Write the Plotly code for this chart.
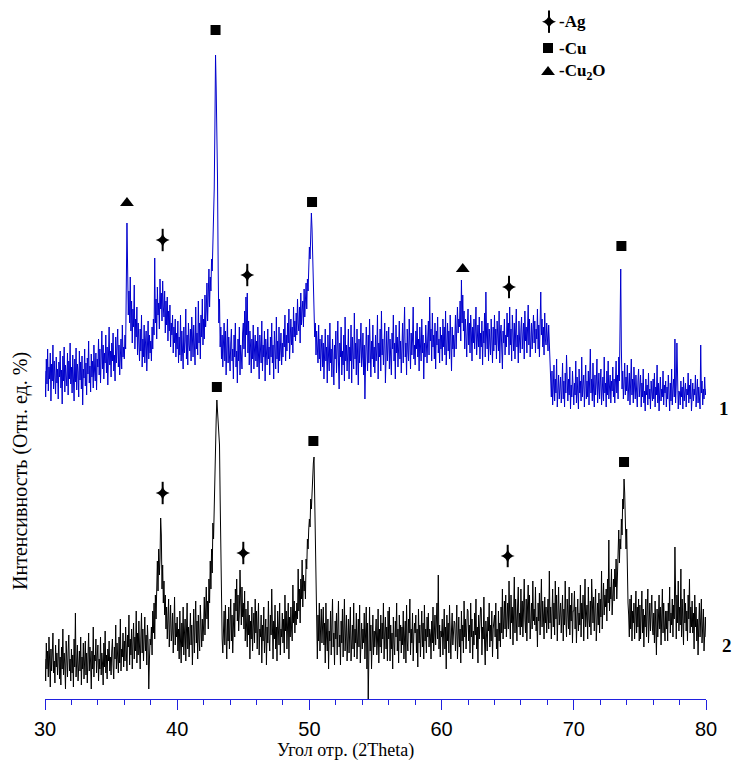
import plotly.graph_objects as go

# 2Theta grid (degrees): 0.05 step from 30 to 80
x_start, x_step, n_pts = 30.0, 0.05, 1001
two_theta = [round(x_start + x_step * i, 2) for i in range(n_pts)]

# Pattern 1 (blue), relative intensity, one row per degree
pattern1 = [
    48, 22, 60, 35, 70, 28, 52, 40, 66, 18, 55, 38, 74, 30, 58, 44, 25, 62, 36, 50,   # 30
    20, 57, 42, 68, 31, 49, 15, 63, 38, 72, 27, 54, 45, 33, 66, 24, 58, 40, 76, 35,   # 31
    52, 26, 64, 44, 18, 60, 37, 71, 29, 55, 47, 22, 68, 39, 57, 30, 63, 14, 50, 41,   # 32
    70, 33, 56, 24, 61, 45, 78, 36, 53, 27, 65, 42, 58, 31, 74, 48, 38, 66, 29, 60,   # 33
    52, 80, 44, 70, 36, 62, 88, 50, 74, 40, 66, 56, 84, 46, 72, 34, 60, 92, 54, 68,   # 34
    42, 76, 58, 86, 48, 64, 38, 82, 56, 70, 90, 52, 74, 44, 66, 80, 50, 94, 62, 72,   # 35
    60, 84, 70, 120, 196, 150, 104, 128, 96, 142, 88, 118, 76, 110, 92, 134, 70, 100, 82, 112,  # 36
    64, 96, 74, 58, 90, 68, 104, 52, 80, 62, 94, 56, 76, 88, 48, 72, 98, 60, 84, 66,  # 37
    78, 58, 92, 70, 100, 84, 161, 96, 120, 80, 132, 104, 116, 90, 140, 110, 126, 98, 138, 112,  # 38
    102, 128, 86, 118, 94, 122, 78, 108, 88, 114, 72, 96, 84, 104, 66, 92, 76, 100, 62, 86,  # 39
    70, 98, 56, 82, 64, 104, 58, 88, 72, 50, 92, 66, 78, 110, 60, 84, 54, 96, 74, 68,  # 40
    90, 58, 102, 72, 62, 94, 80, 54, 112, 70, 86, 64, 118, 76, 96, 60, 104, 82, 120, 74,  # 41
    100, 80, 124, 92, 108, 136, 98, 118, 150, 112, 142, 128, 160, 148, 172, 180, 230, 290, 364, 330,  # 42
    300, 240, 150, 96, 120, 72, 92, 60, 84, 52, 76, 96, 58, 88, 44, 70, 100, 56, 82, 64,  # 43
    48, 76, 90, 58, 70, 40, 84, 62, 96, 52, 68, 36, 80, 58, 92, 44, 74, 64, 50, 86,   # 44
    96, 70, 108, 62, 122, 84, 126, 66, 98, 54, 88, 72, 46, 80, 60, 94, 50, 70, 84, 58,  # 45
    78, 52, 92, 64, 40, 84, 70, 56, 98, 48, 74, 62, 88, 38, 80, 66, 54, 90, 60, 72,   # 46
    44, 82, 62, 96, 56, 74, 40, 88, 66, 50, 102, 60, 78, 46, 92, 58, 70, 86, 54, 76,  # 47
    62, 90, 72, 104, 58, 84, 68, 96, 76, 110, 60, 88, 100, 74, 92, 66, 112, 82, 98, 78,  # 48
    106, 84, 120, 96, 88, 112, 76, 126, 94, 108, 118, 92, 130, 102, 122, 136, 110, 140, 128, 150,  # 49
    172, 160, 186, 206, 190, 168, 140, 110, 82, 96, 64, 88, 72, 56, 94, 60, 80, 48, 70, 84,  # 50
    52, 76, 40, 68, 90, 58, 72, 36, 84, 62, 48, 96, 56, 70, 42, 80, 64, 34, 74, 60,   # 51
    88, 46, 70, 98, 56, 30, 76, 62, 92, 44, 68, 54, 84, 38, 102, 58, 74, 48, 66, 90,  # 52
    40, 72, 58, 94, 36, 82, 64, 50, 106, 60, 76, 44, 90, 68, 34, 80, 56, 72, 96, 52,  # 53
    62, 86, 44, 74, 20, 58, 92, 70, 48, 84, 56, 100, 66, 42, 78, 60, 94, 52, 72, 46,  # 54
    84, 58, 70, 104, 40, 76, 62, 90, 48, 108, 64, 80, 54, 72, 96, 36, 68, 88, 58, 74,  # 55
    92, 50, 80, 62, 44, 86, 70, 104, 58, 76, 40, 94, 66, 82, 52, 72, 98, 60, 78, 46,  # 56
    70, 96, 56, 84, 112, 62, 76, 44, 90, 68, 58, 100, 72, 50, 86, 64, 80, 112, 60, 74,  # 57
    54, 88, 70, 96, 62, 80, 48, 92, 74, 58, 100, 66, 84, 40, 76, 62, 94, 70, 56, 82,  # 58
    98, 64, 122, 78, 90, 58, 106, 72, 84, 60, 96, 50, 88, 74, 102, 66, 80, 56, 92, 70,  # 59
    84, 58, 100, 72, 92, 64, 108, 54, 80, 96, 68, 88, 60, 104, 76, 48, 92, 70, 84, 62,  # 60
    80, 104, 70, 96, 112, 86, 100, 92, 118, 78, 139, 96, 124, 88, 108, 70, 100, 84, 62, 92,  # 61
    110, 74, 96, 66, 104, 86, 58, 92, 76, 100, 70, 88, 112, 64, 80, 94, 72, 102, 60, 86,  # 62
    72, 98, 54, 88, 76, 106, 62, 127, 84, 70, 96, 58, 90, 76, 64, 100, 80, 56, 92, 68,  # 63
    104, 74, 90, 60, 98, 80, 68, 108, 56, 86, 94, 70, 50, 88, 76, 100, 64, 84, 72, 106,  # 64
    82, 96, 64, 112, 74, 90, 58, 104, 80, 68, 96, 60, 88, 110, 72, 84, 56, 98, 78, 66,  # 65
    90, 102, 70, 84, 96, 60, 108, 78, 92, 66, 86, 114, 74, 100, 62, 88, 96, 70, 82, 104,  # 66
    76, 98, 66, 90, 80, 110, 70, 94, 62, 86, 127, 84, 100, 72, 92, 64, 106, 80, 74, 96,  # 67
    84, 68, 94, 72, 60, 36, 22, 48, 14, 32, 54, 18, 40, 26, 60, 12, 34, 44, 20, 30,  # 68
    42, 16, 28, 56, 20, 38, 12, 46, 26, 64, 30, 18, 40, 24, 52, 10, 34, 22, 48, 28,  # 69
    14, 36, 24, 58, 16, 42, 30, 10, 50, 26, 38, 18, 62, 22, 34, 44, 12, 30, 54, 20,  # 70
    38, 22, 48, 14, 32, 70, 26, 40, 18, 56, 28, 12, 44, 24, 36, 60, 16, 30, 46, 20,  # 71
    34, 50, 14, 28, 42, 18, 62, 26, 36, 12, 48, 24, 58, 20, 32, 44, 16, 38, 28, 52,  # 72
    22, 40, 16, 34, 58, 26, 44, 20, 62, 38, 86, 150, 70, 30, 48, 20, 36, 56, 24, 42,  # 73
    28, 54, 18, 36, 46, 14, 30, 60, 24, 40, 16, 52, 32, 20, 44, 26, 12, 38, 50, 22,  # 74
    30, 44, 12, 36, 22, 50, 16, 28, 8, 40, 24, 34, 14, 46, 20, 30, 10, 38, 26, 18,   # 75
    40, 20, 46, 12, 32, 24, 54, 16, 36, 8, 28, 42, 18, 30, 22, 48, 14, 34, 26, 38,   # 76
    12, 32, 20, 44, 26, 8, 36, 18, 50, 14, 30, 40, 22, 80, 16, 34, 76, 24, 10, 28,   # 77
    26, 14, 38, 22, 32, 10, 42, 18, 28, 36, 12, 30, 24, 46, 16, 34, 20, 40, 8, 28,   # 78
    36, 18, 30, 24, 44, 12, 28, 40, 16, 32, 22, 10, 74, 26, 38, 14, 30, 20, 42, 24,  # 79
    30,                                                                               # 80
]

# Pattern 2 (black), relative intensity, one row per degree
pattern2 = [
    40, 18, 56, 30, 48, 22, 62, 34, 12, 50, 28, 44, 66, 26, 38, 16, 54, 32, 46, 24,   # 30
    36, 60, 20, 42, 14, 52, 30, 70, 24, 46, 34, 10, 58, 38, 22, 48, 64, 28, 40, 18,   # 31
    50, 26, 44, 12, 60, 32, 86, 22, 40, 54, 18, 36, 48, 28, 62, 14, 42, 30, 56, 20,   # 32
    34, 58, 24, 46, 16, 40, 66, 28, 52, 36, 10, 48, 30, 72, 22, 44, 38, 60, 26, 42,   # 33
    54, 18, 40, 30, 62, 24, 46, 36, 14, 56, 32, 68, 26, 44, 20, 50, 38, 58, 28, 42,   # 34
    24, 48, 60, 34, 20, 52, 40, 74, 30, 56, 44, 26, 62, 36, 80, 28, 50, 42, 66, 32,   # 35
    58, 38, 72, 46, 28, 64, 52, 84, 34, 60, 44, 70, 30, 56, 76, 40, 62, 48, 88, 36,   # 36
    66, 44, 78, 52, 30, 62, 86, 46, 70, 38, 58, 82, 48, 64, 34, 74, 56, 10, 40, 60,   # 37
    54, 72, 44, 88, 66, 96, 60, 104, 80, 120, 138, 108, 150, 124, 140, 181, 164, 110, 134, 96,  # 38
    118, 84, 104, 70, 92, 60, 80, 100, 52, 74, 94, 58, 66, 86, 46, 70, 102, 54, 76, 62,  # 39
    82, 48, 70, 40, 88, 58, 36, 76, 52, 92, 44, 66, 80, 38, 60, 96, 50, 72, 42, 64,   # 40
    86, 54, 74, 34, 62, 90, 46, 68, 98, 56, 78, 40, 84, 60, 48, 94, 66, 52, 80, 58,   # 41
    74, 102, 64, 88, 112, 80, 98, 70, 120, 96, 138, 110, 150, 126, 176, 160, 200, 232, 254, 280,  # 42
    299, 285, 268, 258, 254, 200, 140, 90, 60, 46, 72, 88, 54, 94, 62, 40, 80, 58, 92, 50,  # 43
    76, 100, 58, 84, 46, 70, 96, 62, 110, 88, 120, 78, 104, 68, 86, 129, 100, 74, 112, 82,  # 44
    96, 70, 108, 58, 90, 74, 52, 98, 64, 84, 40, 78, 60, 92, 48, 72, 86, 56, 100, 66,  # 45
    88, 50, 76, 96, 44, 70, 62, 84, 36, 74, 58, 92, 46, 66, 80, 34, 72, 56, 98, 60,   # 46
    48, 84, 64, 110, 56, 40, 78, 60, 94, 50, 72, 38, 88, 66, 54, 96, 44, 70, 62, 86,  # 47
    56, 80, 46, 104, 68, 88, 50, 74, 96, 40, 82, 62, 92, 70, 58, 114, 76, 98, 66, 88,  # 48
    74, 96, 80, 130, 88, 110, 76, 120, 100, 139, 92, 124, 108, 118, 100, 140, 130, 160, 150, 170,  # 49
    180, 172, 200, 190, 214, 226, 236, 242, 200, 150, 96, 64, 40, 84, 58, 96, 48, 72, 90, 56,  # 50
    70, 92, 54, 76, 36, 96, 62, 48, 80, 30, 68, 58, 88, 44, 74, 100, 52, 66, 34, 78,  # 51
    60, 86, 44, 70, 98, 52, 64, 34, 78, 56, 90, 42, 72, 100, 48, 66, 84, 38, 60, 80,  # 52
    46, 68, 92, 38, 58, 74, 50, 96, 42, 70, 56, 86, 40, 64, 80, 52, 94, 36, 62, 76,   # 53
    50, 70, 56, 86, 40, 64, 92, 30, 76, -2, 62, 92, 48, 74, 30, 58, 84, 44, 68, 52,   # 54
    64, 80, 44, 58, 90, 36, 70, 52, 84, 46, 76, 60, 96, 40, 66, 82, 50, 72, 38, 88,   # 55
    60, 92, 38, 74, 50, 66, 30, 82, 56, 44, 78, 62, 96, 48, 70, 36, 84, 58, 74, 46,   # 56
    72, 54, 88, 40, 62, 78, 36, 94, 58, 48, 80, 66, 100, 44, 70, 56, 86, 38, 64, 76,  # 57
    66, 84, 46, 70, 32, 90, 56, 74, 42, 60, 88, 52, 76, 40, 94, 58, 70, 46, 82, 62,   # 58
    86, 52, 70, 64, 40, 78, 56, 92, 48, 66, 84, 54, 72, 96, 60, 124, 50, 74, 42, 68,  # 59
    62, 80, 44, 68, 90, 50, 72, 30, 84, 58, 76, 46, 94, 64, 40, 70, 86, 54, 66, 78,   # 60
    76, 48, 66, 94, 40, 60, 82, 52, 70, 36, 88, 58, 74, 46, 98, 62, 80, 50, 70, 90,   # 61
    88, 58, 74, 46, 96, 62, 80, 40, 68, 54, 86, 64, 100, 50, 72, 36, 84, 60, 76, 92,  # 62
    90, 44, 72, 60, 102, 56, 34, 78, 64, 48, 82, 68, 96, 52, 74, 58, 88, 42, 70, 84,  # 63
    84, 62, 96, 50, 70, 40, 88, 58, 76, 52, 92, 66, 110, 60, 80, 98, 70, 104, 62, 88,  # 64
    96, 70, 118, 84, 60, 104, 76, 92, 54, 88, 122, 66, 100, 80, 58, 94, 112, 72, 86, 64,  # 65
    110, 72, 98, 62, 86, 120, 80, 66, 100, 58, 92, 114, 76, 104, 60, 84, 96, 70, 118, 78,  # 66
    90, 74, 112, 68, 82, 52, 96, 78, 106, 64, 88, 120, 72, 98, 84, 60, 102, 76, 92, 66,  # 67
    84, 100, 70, 128, 76, 92, 60, 88, 110, 72, 96, 64, 118, 80, 104, 58, 90, 112, 74, 86,  # 68
    96, 66, 84, 104, 58, 90, 74, 118, 80, 62, 100, 86, 70, 112, 64, 94, 78, 106, 56, 88,  # 69
    88, 108, 70, 92, 56, 82, 100, 68, 86, 74, 114, 62, 96, 80, 104, 58, 90, 120, 72, 84,  # 70
    94, 60, 112, 80, 72, 98, 64, 120, 86, 76, 102, 68, 90, 110, 58, 84, 96, 74, 106, 66,  # 71
    100, 82, 128, 70, 96, 116, 84, 104, 92, 110, 78, 120, 96, 159, 88, 112, 100, 130, 84, 118,  # 72
    120, 98, 130, 112, 140, 100, 124, 150, 169, 136, 160, 150, 180, 164, 200, 190, 220, 206, 179, 150,  # 73
    170, 120, 96, 84, 62, 100, 70, 104, 58, 88, 76, 96, 60, 84, 108, 66, 92, 72, 100, 58,  # 74
    94, 60, 80, 108, 66, 90, 52, 84, 72, 100, 62, 88, 110, 56, 78, 96, 68, 86, 104, 70,  # 75
    64, 86, 56, 98, 74, 44, 90, 62, 80, 104, 70, 92, 54, 84, 110, 66, 96, 72, 58, 88,  # 76
    70, 88, 58, 96, 78, 112, 66, 86, 74, 100, 62, 94, 80, 152, 90, 60, 104, 76, 118, 68,  # 77
    92, 74, 130, 62, 100, 84, 54, 110, 76, 96, 68, 88, 58, 104, 80, 120, 66, 92, 72, 98,  # 78
    66, 86, 50, 104, 72, 92, 58, 80, 44, 74, 96, 62, 84, 100, 56, 78, 90, 48, 70, 82,  # 79
    62,                                                                                 # 80
]

# Phase markers: (2Theta, relative intensity) for each pattern
ag_1_x = [38.9, 45.3, 65.1]
ag_1_y = [179, 144, 132]
cu_1_x = [42.9, 50.2, 73.6]
cu_1_y = [389, 217, 173]
cu2o_1_x = [36.2, 61.6]
cu2o_1_y = [216, 150]
ag_2_x = [38.9, 45.0, 65.0]
ag_2_y = [206, 146, 143]
cu_2_x = [43.0, 50.3, 73.8]
cu_2_y = [312, 258, 237]

pattern_labels = ["1", "2"]
legend_names = ["-Ag", "-Cu", "-Cu<sub>2</sub>O"]
x_ticks = [30, 40, 50, 60, 70, 80]

offset1 = 280   # vertical stacking offset of pattern 1
offset2 = 0

AXIS_BLUE = "#2020E0"
SERIF = "Liberation Serif"

ag_x = ag_1_x + ag_2_x
ag_y = [v + offset1 for v in ag_1_y] + [v + offset2 for v in ag_2_y]
cu_x = cu_1_x + cu_2_x
cu_y = [v + offset1 for v in cu_1_y] + [v + offset2 for v in cu_2_y]
cu2o_y = [v + offset1 for v in cu2o_1_y]

# marker styles (Ag = elongated four-point star built from two marker layers)
STAR = dict(symbol="star-diamond", size=10, color="black")
STAR_ARM = dict(symbol="line-ns", size=16, line=dict(width=2, color="black"))
SQUARE = dict(symbol="square", size=10, color="black")
TRIANGLE = dict(symbol="triangle-up", size=12, color="black")

fig = go.Figure()
fig.add_trace(go.Scatter(x=two_theta, y=[v + offset1 for v in pattern1], mode="lines",
                         line=dict(color="#0000CD", width=1), showlegend=False, hoverinfo="skip"))
fig.add_trace(go.Scatter(x=two_theta, y=[v + offset2 for v in pattern2], mode="lines",
                         line=dict(color="#000000", width=1), showlegend=False, hoverinfo="skip"))

fig.add_trace(go.Scatter(x=ag_x, y=ag_y, mode="markers", showlegend=False, marker=STAR_ARM))
fig.add_trace(go.Scatter(x=ag_x, y=ag_y, mode="markers", showlegend=False, marker=STAR))
fig.add_trace(go.Scatter(x=cu_x, y=cu_y, mode="markers", showlegend=False, marker=SQUARE))
fig.add_trace(go.Scatter(x=cu2o_1_x, y=cu2o_y, mode="markers", showlegend=False, marker=TRIANGLE))

# legend key symbols, drawn on an overlay axis spanning the plot area (0..1)
leg_sym_x = [0.7625, 0.761, 0.761]
leg_y = [0.969, 0.9313, 0.897]
fig.add_trace(go.Scatter(x=leg_sym_x[:1], y=leg_y[:1], xaxis="x2", yaxis="y2", mode="markers",
                         showlegend=False, hoverinfo="skip", marker=STAR_ARM))
fig.add_trace(go.Scatter(x=leg_sym_x[:1], y=leg_y[:1], xaxis="x2", yaxis="y2", mode="markers",
                         showlegend=False, hoverinfo="skip", marker=STAR))
fig.add_trace(go.Scatter(x=leg_sym_x[1:2], y=leg_y[1:2], xaxis="x2", yaxis="y2", mode="markers",
                         showlegend=False, hoverinfo="skip", marker=SQUARE))
fig.add_trace(go.Scatter(x=leg_sym_x[2:], y=leg_y[2:], xaxis="x2", yaxis="y2", mode="markers",
                         showlegend=False, hoverinfo="skip", marker=TRIANGLE))
for name, ly in zip(legend_names, leg_y):
    fig.add_annotation(x=0.7746, y=ly, xref="paper", yref="paper", text="<b>%s</b>" % name,
                       showarrow=False, xanchor="left", yanchor="middle",
                       font=dict(family=SERIF, size=17, color="black"))

# pattern numbers at the right end
fig.add_annotation(x=80, y=offset1 + 11, xref="x", yref="y", text="<b>%s</b>" % pattern_labels[0],
                   showarrow=False, xanchor="left", xshift=11,
                   font=dict(family=SERIF, size=19, color="black"))
fig.add_annotation(x=80, y=offset2 + 54, xref="x", yref="y", text="<b>%s</b>" % pattern_labels[1],
                   showarrow=False, xanchor="left", xshift=14,
                   font=dict(family=SERIF, size=19, color="black"))

# axis titles
fig.add_annotation(x=0.454, y=0, xref="paper", yref="paper", yshift=-51, text="Угол отр. (2Theta)",
                   showarrow=False, yanchor="middle",
                   font=dict(family=SERIF, size=18, color="black"))
fig.add_annotation(x=-0.038, y=0.326, xref="paper", yref="paper", text="Интенсивность (Отн. ед. %)",
                   showarrow=False, textangle=-90, xanchor="center", yanchor="middle",
                   font=dict(family=SERIF, size=20, color="black"))

fig.update_layout(
    width=734, height=762,
    margin=dict(l=45, r=28, t=0, b=63),
    paper_bgcolor="white", plot_bgcolor="white",
    showlegend=False,
    xaxis=dict(range=[30, 80], tickvals=x_ticks, ticks="outside", ticklen=10, tickwidth=1,
               tickcolor=AXIS_BLUE, showline=True, linecolor=AXIS_BLUE, linewidth=1,
               showgrid=False, zeroline=False, ticklabelstandoff=2,
               tickfont=dict(family="Liberation Sans", size=20, color="black"),
               minor=dict(dtick=2, ticks="outside", ticklen=5, tickcolor=AXIS_BLUE, tickwidth=1,
                          showgrid=False)),
    yaxis=dict(range=[0, 699], visible=False, showgrid=False, zeroline=False),
    xaxis2=dict(range=[0, 1], overlaying="x", visible=False, anchor="y2"),
    yaxis2=dict(range=[0, 1], overlaying="y", visible=False, anchor="x2"),
)

fig.write_html("out.html", config={"displayModeBar": False},
               post_script="document.body.style.margin='0px';")
